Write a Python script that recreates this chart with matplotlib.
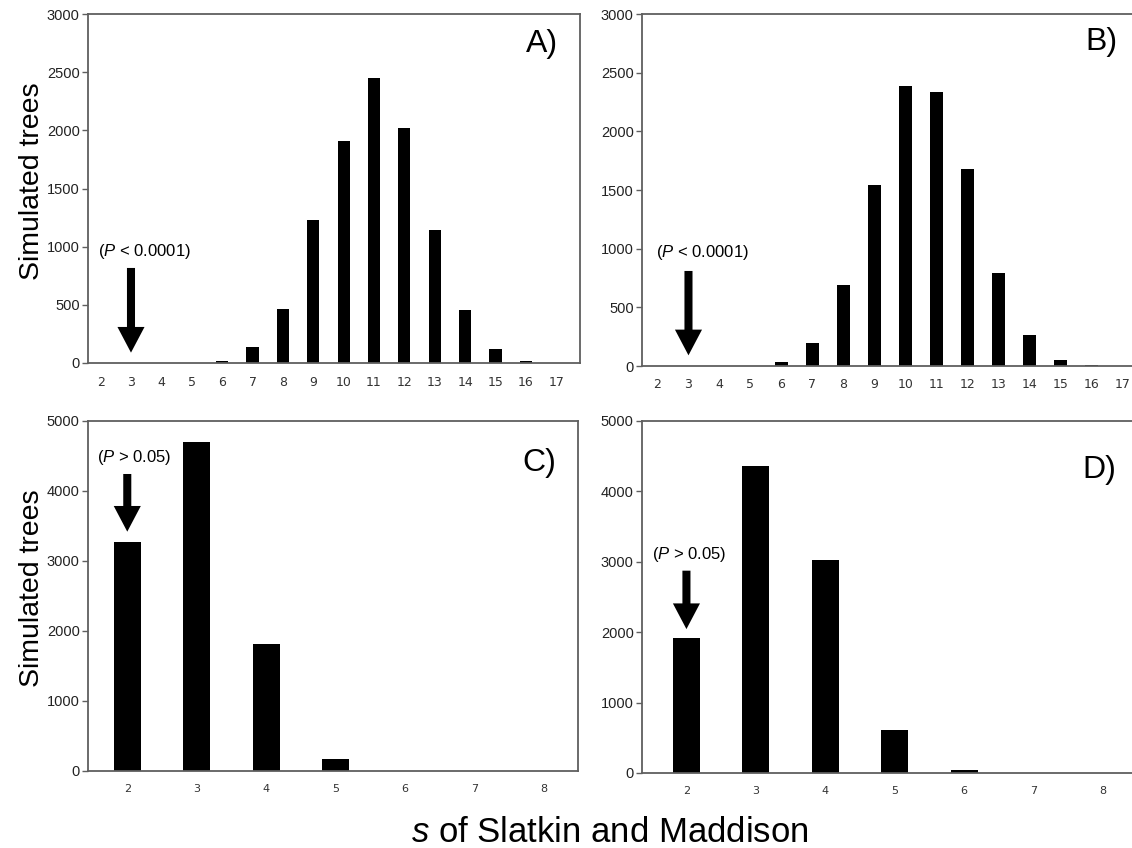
import matplotlib
matplotlib.use("Agg")
import matplotlib.pyplot as plt
from matplotlib.patches import ArrowStyle

plt.rcParams['font.family'] = ['Liberation Sans', 'DejaVu Sans']
plt.rcParams['mathtext.fontset'] = 'custom'
plt.rcParams['mathtext.rm'] = 'Liberation Sans'
plt.rcParams['mathtext.it'] = 'Liberation Sans:italic'

# ---- data ----
s_top = list(range(2, 18))
counts_A = [0, 0, 0, 0, 20, 134, 464, 1225, 1912, 2454, 2024, 1143, 455, 120, 15, 0]
counts_B = [0, 0, 0, 0, 34, 196, 694, 1542, 2389, 2332, 1681, 794, 262, 48, 5, 0]
s_bottom = list(range(2, 9))
counts_C = [3276, 4695, 1819, 167, 0, 0, 0]
counts_D = [1920, 4367, 3030, 617, 38, 0, 0]

panel_labels = ["A)", "B)", "C)", "D)"]
p_texts = ["($P$ < 0.0001)", "($P$ < 0.0001)", "($P$ > 0.05)", "($P$ > 0.05)"]
observed_s = [3, 3, 2, 2]
arrow_tops = [817, 810, 4243, 2874]
arrow_tips = [89, 91, 3419, 2044]
text_pos = [(3.45, 955), (3.45, 970), (2.1, 4480), (2.04, 3110)]

W, H = 1132, 848
fig = plt.figure(figsize=(W / 100, H / 100), dpi=100)


def add_axes(left, right, top, bottom):
    return fig.add_axes([left / W, 1 - bottom / H, (right - left) / W, (bottom - top) / H])


axA = add_axes(88, 580, 14, 363)
axB = add_axes(642, 1144, 14, 366)
axC = add_axes(88, 578, 421, 771)
axD = add_axes(642, 1144, 421, 773)

spine_col = '#5f5f5f'
specs = [
    (axA, s_top, counts_A, (1.585, 17.78), 3000, 500, 0.4, 9.0),
    (axB, s_top, counts_B, (1.5, 17.7), 3000, 500, 0.4, 9.0),
    (axC, s_bottom, counts_C, (1.434, 8.496), 5000, 1000, 0.39, 8.0),
    (axD, s_bottom, counts_D, (1.36, 8.59), 5000, 1000, 0.39, 8.0),
]

label_xy = [(558, 44), (1117, 42), (556, 463), (1116, 470)]

for i, (ax, xs, ys, xlim, ymax, ystep, bw, xfs) in enumerate(specs):
    ax.bar(xs, ys, width=bw, color='black', edgecolor='none')
    ax.set_xlim(*xlim)
    ax.set_ylim(0, ymax)
    ax.set_xticks(xs)
    ax.set_xticklabels([str(x) for x in xs], fontsize=xfs, family='DejaVu Sans', color='#333333')
    ax.set_yticks(range(0, ymax + 1, ystep))
    ax.tick_params(axis='x', length=0, pad=9)
    ax.tick_params(axis='y', length=4, width=1, color=spine_col, labelsize=10.5, pad=2, labelcolor='#222222')
    for sp in ax.spines.values():
        sp.set_color(spine_col)
        sp.set_linewidth(1.3)
    # panel label
    lx, ly = label_xy[i]
    fig.text(lx / W, 1 - ly / H, panel_labels[i], fontsize=23, ha='right', va='center')
    # arrow
    ax.annotate('', xy=(observed_s[i], arrow_tips[i]), xytext=(observed_s[i], arrow_tops[i]),
                arrowprops=dict(arrowstyle=ArrowStyle.Simple(head_length=18.5, head_width=19.5, tail_width=5.8),
                                mutation_scale=1, fc='black', ec='none', lw=0,
                                shrinkA=0, shrinkB=0))
    tx, ty = text_pos[i]
    ax.text(tx, ty, p_texts[i], fontsize=12, ha='center', va='center')

fig.text(32 / W, 1 - 181 / H, 'Simulated trees', rotation=90, fontsize=20.5, ha='center', va='center')
fig.text(32 / W, 1 - 588 / H, 'Simulated trees', rotation=90, fontsize=20.5, ha='center', va='center')
fig.text(610 / W, 1 - 842 / H, '$s$ of Slatkin and Maddison', fontsize=25, ha='center', va='baseline')

fig.savefig('out.png', dpi=100)
